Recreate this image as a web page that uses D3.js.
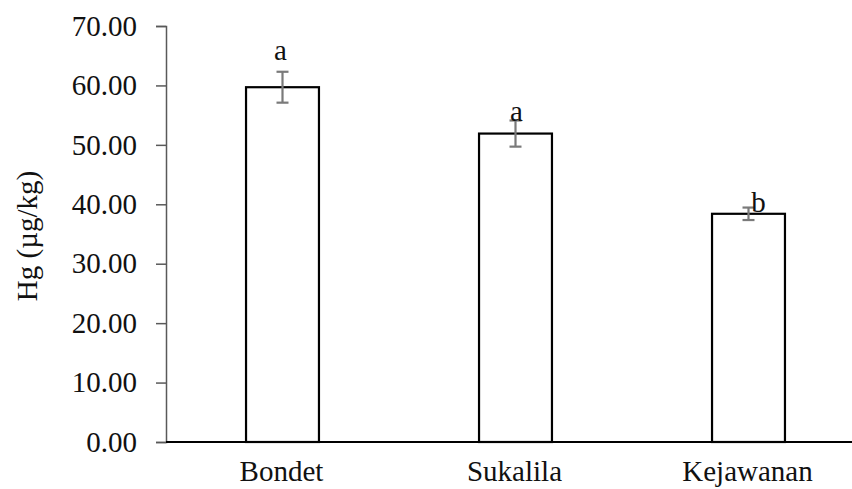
<!DOCTYPE html>
<html>
<head>
<meta charset="utf-8">
<script src="https://cdn.jsdelivr.net/npm/d3@7"></script>
<style>
  body { margin: 0; background: #fff; }
  text { font-family: 'Liberation Serif', 'Times New Roman', serif; }
</style>
</head>
<body>
<div class="chart"></div>
<script>
const sites = ['Bondet', 'Sukalila', 'Kejawanan']
const meanHg = [59.7, 51.9, 38.4]
const errHg = [2.6, 2.2, 1.05]
const groups = ['a', 'a', 'b']
const yTicks = [0, 10, 20, 30, 40, 50, 60, 70]

// hand placed letter offsets (px from bar top centre), as in the original
const letterNudge = [[-2, -27], [1, -13], [10, -2]]

const W = 852
const H = 489
const margin = { top: 26, left: 166, bottom: 47 }

const svg = d3.select('.chart').append('svg').attr('width', W).attr('height', H)

const x = d3.scaleBand().domain(sites).range([margin.left, margin.left + 699]).paddingInner(0.687).paddingOuter(0.3435)
const y = d3.scaleLinear().domain([0, 70]).range([H - margin.bottom, margin.top])

// y axis
const yAxis = d3.axisLeft(y).tickValues(yTicks).tickSize(10).tickPadding(19).tickFormat(d3.format('.2f'))
const gy = svg.append('g').attr('transform', `translate(${margin.left},0)`).call(yAxis)
gy.select('.domain').attr('stroke', '#595959').attr('stroke-width', 1.5)
gy.selectAll('.tick line').attr('stroke', '#595959').attr('stroke-width', 1.5)
gy.selectAll('.tick text').attr('font-size', 29).attr('fill', '#111').style('font-family', 'Liberation Serif')

svg.append('text')
  .attr('transform', `translate(37, ${y(35) + 2}) rotate(-90)`)
  .attr('text-anchor', 'middle')
  .attr('font-size', 29)
  .attr('fill', '#111')
  .text('Hg (µg/kg)')

// bars
svg.selectAll('.bar').data(sites).join('rect')
  .attr('class', 'bar')
  .attr('x', d => x(d))
  .attr('y', (d, i) => y(meanHg[i]))
  .attr('width', x.bandwidth())
  .attr('height', (d, i) => y(0) - y(meanHg[i]))
  .attr('fill', '#fff')
  .attr('stroke', '#000')
  .attr('stroke-width', 2.2)

// x baseline
svg.append('line')
  .attr('x1', margin.left).attr('x2', W)
  .attr('y1', y(0)).attr('y2', y(0))
  .attr('stroke', '#000').attr('stroke-width', 2.2)

// error bars
const eb = svg.selectAll('.err').data(sites).join('g').attr('class', 'err')
  .attr('stroke', '#7a7a7a').attr('stroke-width', 2.2)
const cx = d => x(d) + x.bandwidth() / 2
eb.append('line').attr('x1', cx).attr('x2', cx)
  .attr('y1', (d, i) => y(meanHg[i] + errHg[i])).attr('y2', (d, i) => y(meanHg[i] - errHg[i]))
eb.append('line').attr('x1', d => cx(d) - 6).attr('x2', d => cx(d) + 6)
  .attr('y1', (d, i) => y(meanHg[i] + errHg[i])).attr('y2', (d, i) => y(meanHg[i] + errHg[i]))
eb.append('line').attr('x1', d => cx(d) - 6).attr('x2', d => cx(d) + 6)
  .attr('y1', (d, i) => y(meanHg[i] - errHg[i])).attr('y2', (d, i) => y(meanHg[i] - errHg[i]))

// group letters
svg.selectAll('.letter').data(sites).join('text')
  .attr('class', 'letter')
  .attr('x', (d, i) => cx(d) + letterNudge[i][0])
  .attr('y', (d, i) => y(meanHg[i]) + letterNudge[i][1])
  .attr('text-anchor', 'middle')
  .attr('font-size', 29)
  .attr('fill', '#111')
  .text((d, i) => groups[i])

// category labels
svg.selectAll('.cat').data(sites).join('text')
  .attr('class', 'cat')
  .attr('x', d => cx(d) - 1)
  .attr('y', H - 8)
  .attr('text-anchor', 'middle')
  .attr('font-size', 29)
  .attr('fill', '#111')
  .text(d => d)
</script>
</body>
</html>
